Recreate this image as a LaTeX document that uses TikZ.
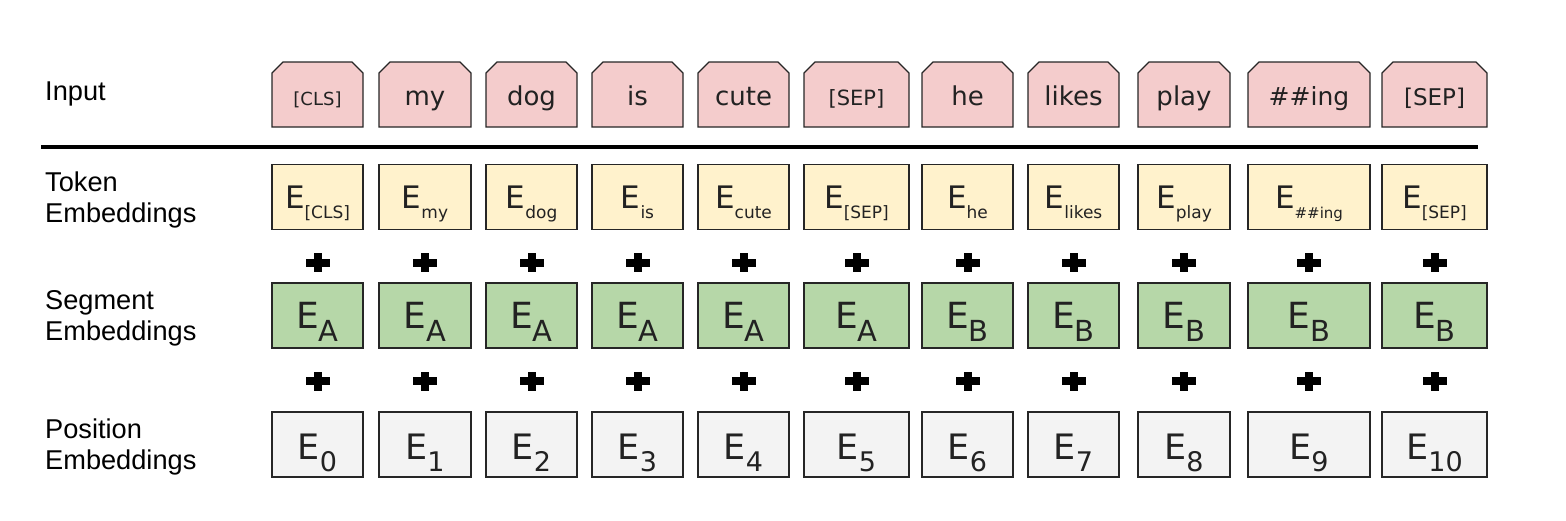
\documentclass[tikz,border=0pt]{standalone}
\usepackage{fontspec}
\setmainfont{Liberation Sans}
\newfontfamily\boxfont{DejaVu Sans}
\usetikzlibrary{backgrounds}
\definecolor{inpink}{HTML}{F4CCCC}
\definecolor{tokyel}{HTML}{FFF2CC}
\definecolor{seggrn}{HTML}{B6D7A8}
\definecolor{posgry}{HTML}{F3F3F3}
\definecolor{boxline}{HTML}{262626}
\definecolor{boxtxt}{HTML}{222222}
\newcommand{\fs}[1]{\fontsize{#1}{#1}\selectfont}
\newcommand{\emb}[4]{{\fs{#1}E}\raisebox{-#3pt}{\fs{#2}#4}}
\tikzset{
  basebox/.style={line width=1.3pt, minimum height=65pt, inner sep=0pt, outer sep=0pt, text=boxtxt, font=\boxfont},
  inbox/.style={basebox, rectangle, text height=21pt, text depth=0pt},
  chamfer/.style={draw=boxline, fill=inpink, line width=1.3pt, line join=miter},
  tokbox/.style={basebox, draw=boxline, rectangle, fill=tokyel, text height=22pt, text depth=0pt},
  segbox/.style={basebox, draw=boxline, rectangle, fill=seggrn, text height=25pt, text depth=0pt},
  posbox/.style={basebox, draw=boxline, rectangle, fill=posgry, text height=29pt, text depth=0pt},
  lab/.style={anchor=base west, inner sep=0pt, font=\fs{27.2}, text=black},
  plus/.style={fill=black}
}
\newcommand{\tk}[1]{\emb{31}{17}{10}{#1}}
\newcommand{\sg}[1]{\emb{36}{29}{13}{#1}}
\newcommand{\ps}[1]{\emb{35}{27}{12}{#1}}
\begin{document}
\begin{tikzpicture}[x=1pt,y=-1pt]
\useasboundingbox (0,0) rectangle (1566,520);
% labels
\node[lab] (lin) at (45,100) {Input};
\node[lab] (ltok1) at (45,191.5) {Token};
\node[lab] (ltok2) at (45,222) {Embeddings};
\node[lab] (lseg1) at (45,309.5) {Segment};
\node[lab] (lseg2) at (45,340) {Embeddings};
\node[lab] (lpos1) at (45,438.5) {Position};
\node[lab] (lpos2) at (45,469) {Embeddings};
% separator line
\coordinate (lineL) at (41,147);
\coordinate (lineR) at (1478,147);
\draw[line width=3.5pt] (lineL) -- (lineR);
% input row
\node[inbox, minimum width=91pt] (i1) at (317.5,94.5) {\fs{18}[CLS]};
\node[inbox, minimum width=92pt] (i2) at (425,94.5) {\fs{26}my};
\node[inbox, minimum width=91pt] (i3) at (531.5,94.5) {\fs{26}dog};
\node[inbox, minimum width=91pt] (i4) at (637.5,94.5) {\fs{26}is};
\node[inbox, minimum width=91pt] (i5) at (743.5,94.5) {\fs{26}cute};
\node[inbox, minimum width=105pt] (i6) at (856.5,94.5) {\fs{21}[SEP]};
\node[inbox, minimum width=91pt] (i7) at (967.5,94.5) {\fs{26}he};
\node[inbox, minimum width=91pt] (i8) at (1073.5,94.5) {\fs{26}likes};
\node[inbox, minimum width=92pt] (i9) at (1184,94.5) {\fs{26}play};
\node[inbox, minimum width=122pt] (i10) at (1309,94.5) {\fs{25}\#\#ing};
\node[inbox, minimum width=105pt] (i11) at (1434.5,94.5) {\fs{23}[SEP]};
\begin{scope}[on background layer]
\foreach \b in {i1,i2,i3,i4,i5,i6,i7,i8,i9,i10,i11}{
  \filldraw[chamfer] (\b.south west) -- ([yshift=-11pt]\b.north west) -- ([xshift=11pt]\b.north west)
    -- ([xshift=-11pt]\b.north east) -- ([yshift=-11pt]\b.north east) -- (\b.south east) -- cycle;
}
\end{scope}
% token row
\node[tokbox, minimum width=91pt] (t1) at (317.5,197) {\tk{[CLS]}};
\node[tokbox, minimum width=92pt] (t2) at (425,197) {\tk{my}};
\node[tokbox, minimum width=91pt] (t3) at (531.5,197) {\tk{dog}};
\node[tokbox, minimum width=91pt] (t4) at (637.5,197) {\tk{is}};
\node[tokbox, minimum width=91pt] (t5) at (743.5,197) {\tk{cute}};
\node[tokbox, minimum width=105pt] (t6) at (856.5,197) {\tk{[SEP]}};
\node[tokbox, minimum width=91pt] (t7) at (967.5,197) {\tk{he}};
\node[tokbox, minimum width=91pt] (t8) at (1073.5,197) {\tk{likes}};
\node[tokbox, minimum width=92pt] (t9) at (1184,197) {\tk{play}};
\node[tokbox, minimum width=122pt] (t10) at (1309,197) {\emb{31}{15}{10}{\#\#ing}};
\node[tokbox, minimum width=105pt] (t11) at (1434.5,197) {\tk{[SEP]}};
% segment row
\node[segbox, minimum width=91pt] (s1) at (317.5,315.5) {\sg{A}};
\node[segbox, minimum width=92pt] (s2) at (425,315.5) {\sg{A}};
\node[segbox, minimum width=91pt] (s3) at (531.5,315.5) {\sg{A}};
\node[segbox, minimum width=91pt] (s4) at (637.5,315.5) {\sg{A}};
\node[segbox, minimum width=91pt] (s5) at (743.5,315.5) {\sg{A}};
\node[segbox, minimum width=105pt] (s6) at (856.5,315.5) {\sg{A}};
\node[segbox, minimum width=91pt] (s7) at (967.5,315.5) {\sg{B}};
\node[segbox, minimum width=91pt] (s8) at (1073.5,315.5) {\sg{B}};
\node[segbox, minimum width=92pt] (s9) at (1184,315.5) {\sg{B}};
\node[segbox, minimum width=122pt] (s10) at (1309,315.5) {\sg{B}};
\node[segbox, minimum width=105pt] (s11) at (1434.5,315.5) {\sg{B}};
% position row
\node[posbox, minimum width=91pt] (p1) at (317.5,444.5) {\ps{0}};
\node[posbox, minimum width=92pt] (p2) at (425,444.5) {\ps{1}};
\node[posbox, minimum width=91pt] (p3) at (531.5,444.5) {\ps{2}};
\node[posbox, minimum width=91pt] (p4) at (637.5,444.5) {\ps{3}};
\node[posbox, minimum width=91pt] (p5) at (743.5,444.5) {\ps{4}};
\node[posbox, minimum width=105pt] (p6) at (856.5,444.5) {\ps{5}};
\node[posbox, minimum width=91pt] (p7) at (967.5,444.5) {\ps{6}};
\node[posbox, minimum width=91pt] (p8) at (1073.5,444.5) {\ps{7}};
\node[posbox, minimum width=92pt] (p9) at (1184,444.5) {\ps{8}};
\node[posbox, minimum width=122pt] (p10) at (1309,444.5) {\ps{9}};
\node[posbox, minimum width=105pt] (p11) at (1434.5,444.5) {\ps{10}};
% plus signs
\foreach \cx in {317.5,425,531.5,637.5,743.5,856.5,967.5,1073.5,1184,1309,1434.5}{
  \foreach \cy in {262.5,381}{
    \fill[plus] (\cx-12,\cy-4) rectangle (\cx+12,\cy+4);
    \fill[plus] (\cx-4,\cy-9.5) rectangle (\cx+4,\cy+9.5);
  }
}
\end{tikzpicture}
\end{document}
